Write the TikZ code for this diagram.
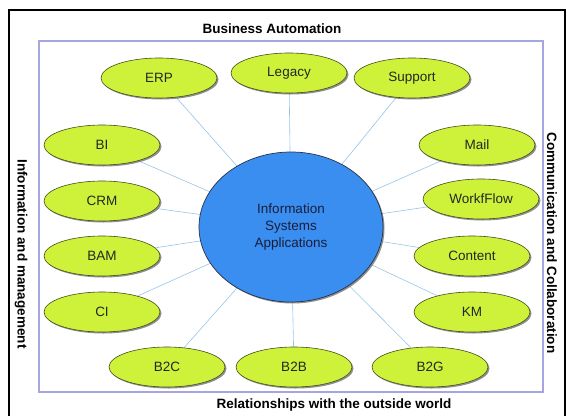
\documentclass[tikz,border=0pt]{standalone}
\usepackage{fontspec}
\setmainfont{Liberation Sans}
\usetikzlibrary{shapes.geometric,shadows,backgrounds}
\definecolor{lime}{RGB}{206,242,58}
\definecolor{limeedge}{RGB}{70,75,30}
\definecolor{core}{RGB}{58,142,240}
\definecolor{coreedge}{RGB}{40,50,70}
\definecolor{link}{RGB}{150,196,230}
\definecolor{frame}{RGB}{165,165,225}
\definecolor{coretext}{RGB}{25,30,60}
\tikzset{
  app/.style={ellipse,draw=limeedge,line width=0.6pt,fill=lime,minimum width=116pt,minimum height=40pt,inner sep=0pt,
    font=\fontsize{13.5}{16}\selectfont,text=black!85,
    drop shadow={shadow xshift=1.5pt,shadow yshift=-1.5pt,fill=black!55,opacity=0.8}},
  hub/.style={ellipse,draw=coreedge,line width=0.7pt,fill=core,minimum width=184pt,minimum height=150pt,inner sep=0pt,
    align=center,font=\fontsize{13.5}{17}\selectfont,text=coretext,
    drop shadow={shadow xshift=1.5pt,shadow yshift=-1.5pt,fill=black!55,opacity=0.8}},
  link/.style={draw=link,line width=0.6pt},
  side/.style={font=\bfseries\fontsize{13.5}{16}\selectfont,text=black}
}
\begin{document}
\begin{tikzpicture}[x=1pt,y=-1pt]
\useasboundingbox (0,0) rectangle (567,415);
\begin{scope}
\clip (0,0) rectangle (567,415);
\draw[line width=2pt,black] (9,10) rectangle (565,440);
\end{scope}
\draw[frame,line width=1.5pt] (39,41) rectangle (543,392);

\node[hub] (isa) at (291,227) {Information\\Systems\\Applications};

\node[app] (erp) at (159,78) {ERP};
\node[app] (legacy) at (289,73) {Legacy};
\node[app] (support) at (412,78) {Support};
\node[app] (bi) at (102,145) {BI};
\node[app] (crm) at (102,201) {CRM};
\node[app] (bam) at (102,256) {BAM};
\node[app] (ci) at (102,312) {CI};
\node[app] (mail) at (477,145) {Mail};
\node[app] (flow) at (481,199) {WorkfFlow};
\node[app] (content) at (472,256) {Content};
\node[app] (km) at (472,312) {KM};
\node[app] (b2c) at (167,367) {B2C};
\node[app] (b2b) at (294,367) {B2B};
\node[app] (b2g) at (430,367) {B2G};

\begin{scope}[on background layer]
\foreach \n in {erp,legacy,support,bi,crm,bam,ci,mail,flow,content,km,b2c,b2b,b2g}
  \draw[link] (\n) -- (isa);
\end{scope}

\node[side] (top) at (272,29) {Business Automation};
\node[side] (bottom) at (334,405) {Relationships with the outside world};
\node[side,rotate=-90] (left) at (21,254) {Information and management};
\node[side,rotate=-90] (right) at (552,243) {Communication and Collaboration};
\end{tikzpicture}
\end{document}
